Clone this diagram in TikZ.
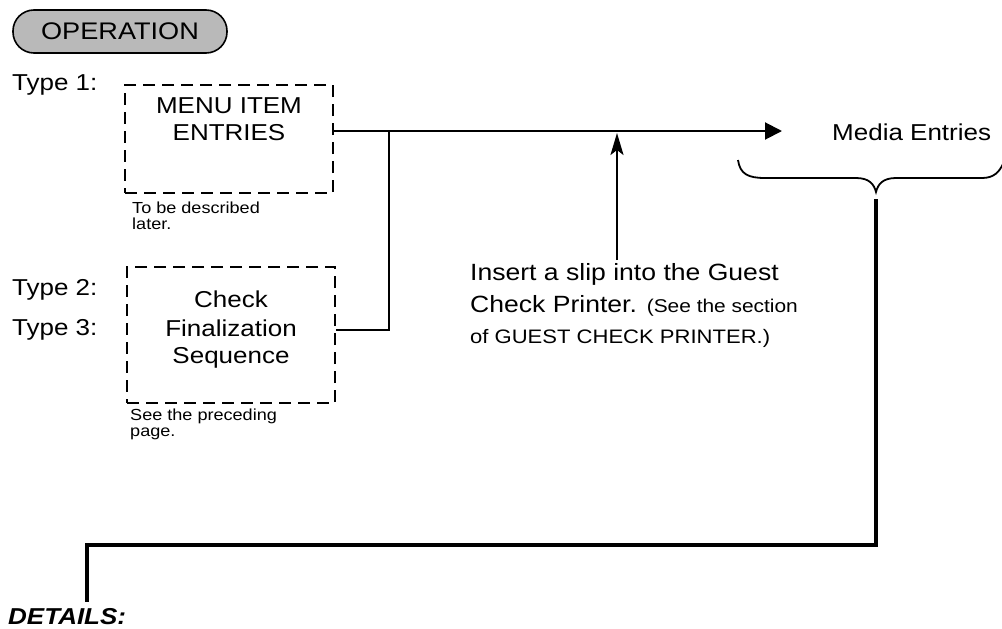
\documentclass[tikz,border=0pt]{standalone}
\usepackage{fontspec}
\setmainfont{Liberation Sans}[FakeStretch=1.13]
\usetikzlibrary{arrows.meta}
\begin{document}
\begin{tikzpicture}[x=1pt,y=-1pt,
  txt/.style={inner sep=0pt, anchor=base west},
  ctxt/.style={inner sep=0pt, anchor=base},
  big/.style={font=\fontsize{23}{28}\selectfont},
  note/.style={font=\fontsize{16}{18}\selectfont},
  dbox/.style={draw, line width=1.8pt, dash pattern=on 12pt off 7pt},
  conn/.style={draw, line width=2pt},
  heavy/.style={draw, line width=4pt},
  pill/.style={draw, line width=1.6pt, rounded corners=21pt, fill=gray!55,
    minimum width=214pt, minimum height=43pt, inner sep=0pt,
    font=\fontsize{24}{28}\selectfont}
]
\useasboundingbox (0,0) rectangle (1002,629);

% heading
\node[pill] (op) at (120,31.5) {OPERATION};

% type labels
\node[txt,big] (ty1) at (12,90) {Type 1:};
\node[txt,big] (ty2) at (12,295) {Type 2:};
\node[txt,big] (ty3) at (12,335) {Type 3:};

% boxes
\node[dbox, minimum width=208pt, minimum height=108pt] (b1) at (229,139) {};
\node[ctxt,big] (b1a) at (229,113) {MENU ITEM};
\node[ctxt,big] (b1b) at (229,140) {ENTRIES};
\node[txt,note] (n1a) at (132,213) {To be described};
\node[txt,note] (n1b) at (132,229) {later.};

\node[dbox, minimum width=208pt, minimum height=136pt] (b2) at (231,335) {};
\node[ctxt,big] (b2a) at (231,307) {Check};
\node[ctxt,big] (b2b) at (231,336) {Finalization};
\node[ctxt,big] (b2c) at (231,363) {Sequence};
\node[txt,note] (n2a) at (130,420) {See the preceding};
\node[txt,note] (n2b) at (130,436) {page.};

% insert text
\node[txt,font=\fontsize{23.5}{28}\selectfont] (ins1) at (470,280) {Insert a slip into the Guest};
\node[txt,font=\fontsize{23.5}{28}\selectfont] (ins2) at (470,312) {Check Printer. {\fontsize{18.5}{22}\selectfont(See the section}};
\node[txt,font=\fontsize{19.5}{22}\selectfont] (ins3) at (470,343) {of GUEST CHECK PRINTER.)};

% media entries
\node[txt,big] (media) at (832,140) {Media Entries};

% details
\node[txt,font=\fontsize{23}{28}\selectfont\bfseries\itshape] (det) at (8,624) {DETAILS:};

% coordinates
\coordinate (tip) at (782,131);
\coordinate (j1) at (389,131);
\coordinate (j2) at (389,330);
\coordinate (upbot) at (617,260);
\coordinate (uptop) at (617,133);
\coordinate (bt) at (876,199);
\coordinate (c1) at (87,545);
\coordinate (dend) at (87,602);

% connectors
\draw[conn, -{Triangle[length=17pt,width=17pt]}] (b1.east |- tip) -- (tip);
\draw[conn] (b2.east |- j2) -- (j2) -- (j1);
\draw[conn, line width=2.2pt, -{Stealth[length=22pt,width=13pt,inset=5pt]}] (upbot) -- (uptop);

% brace
\draw[line width=1.8pt] (738,160) .. controls (740,174) and (748,178) .. (765,178)
  -- (856,178) .. controls (869,178) and (874,184) .. (876,192)
  .. controls (878,184) and (883,178) .. (896,178)
  -- (982,178) .. controls (994,178) and (999,172) .. (1003,164);

% heavy line
\draw[heavy] (bt) |- (c1) -- (dend);
\end{tikzpicture}
\end{document}
